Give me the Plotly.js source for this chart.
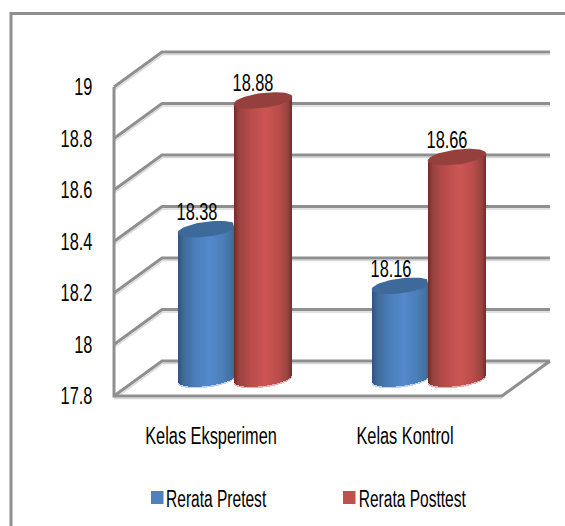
<!DOCTYPE html>
<html>
<head>
<meta charset="utf-8">
<script src="https://cdn.plot.ly/plotly-3.0.1.min.js"></script>
<style>html,body{margin:0;padding:0;background:#fff}#chart{width:565px;height:526px}</style>
</head>
<body>
<div id="chart"></div>
<script>
// ---- data ----
const categories = ['Kelas Eksperimen', 'Kelas Kontrol'];
const pretest = [18.38, 18.16];
const posttest = [18.88, 18.66];
const seriesNames = ['Rerata Pretest', 'Rerata Posttest'];
const yTicks = [17.8, 18, 18.2, 18.4, 18.6, 18.8, 19];
const yTickLabels = ['17.8', '18', '18.2', '18.4', '18.6', '18.8', '19'];

// ---- geometry / style ----
const W = 565, H = 526;
const M = {l: 104, r: 10, t: 40, b: 120};
const PX = 194, PY = 257.5;            // pixels per category, pixels per value unit
const ux = p => p / PX, uy = p => p / PY;
const yMin = 17.8, frontL = -0.5, frontR = categories.length - 0.5;
const DX = ux(48), DY = uy(35);        // depth of the 3D box
const xLo = frontL - ux(10), xHi = xLo + ux(W - M.l - M.r);
const yLo = yMin - uy(10), yHi = yLo + uy(H - M.t - M.b);
const backR = frontR + DX;
const paperX = p => (p - M.l) / (W - M.l - M.r);
const paperY = p => (H - M.b - p) / (H - M.t - M.b);
const FONT = '"Liberation Sans",Arial,sans-serif';
const FS = 23, SQUEEZE = 0.71, LEGEND_SQUEEZE = 0.675;
const GRID = '#8f8f8f', SHADOW = '#d8d8d8';

const blueStops = [[0,'#2f5580'],[0.1,'#3f6a9b'],[0.3,'#4b7eb9'],[0.55,'#5389cc'],[0.78,'#4b7eb8'],[0.93,'#41709f'],[1,'#375d88']];
const redStops  = [[0,'#6f2a28'],[0.08,'#97423f'],[0.28,'#b74c49'],[0.55,'#cd5553'],[0.78,'#b94d4a'],[0.93,'#97423f'],[1,'#6d2c2a']];
const blueCap = '#3d6a9b', redCap = '#95403d';
const blueRim = '#bcd2ee', redRim = '#e6aeac';

const hex = h => [1,3,5].map(i => parseInt(h.slice(i, i+2), 16));
function grad(stops, t) {
  for (let i = 1; i < stops.length; i++) {
    if (t <= stops[i][0]) {
      const f = (t - stops[i-1][0]) / (stops[i][0] - stops[i-1][0]);
      const a = hex(stops[i-1][1]), b = hex(stops[i][1]);
      return 'rgb(' + a.map((v, k) => Math.round(v + (b[k] - v) * f)).join(',') + ')';
    }
  }
  return stops[stops.length-1][1];
}

const HALF = ux(29.3), GAP = ux(28), EB = uy(7.5), SKEW = uy(3.5), NS = 58, RIM = uy(1.5);

function cylinder(values, side, stops, rimColor, name) {
  const x = [], y = [], base = [], color = [], rx = [], ry = [], rbase = [], rcolor = [];
  values.forEach((v, i) => {
    const c = i + DX / 2 + side * GAP;
    for (let j = 0; j < NS; j++) {
      const u = (j + 0.5) / NS * 2 - 1;
      const low = yMin + DY / 2 + SKEW * u - EB * Math.sqrt(1 - u * u);
      const top = v + DY / 2 + SKEW * u;
      x.push(c + HALF * u); base.push(low); y.push(top - low);
      color.push(grad(stops, (u + 1) / 2));
      rx.push(c + HALF * u); rbase.push(low - RIM); ry.push(RIM); rcolor.push(rimColor);
    }
  });
  return [
    {type: 'bar', x: rx, y: ry, base: rbase, width: ux(1.3), marker: {color: rcolor, line: {width: 0}}, showlegend: false, hoverinfo: 'skip'},
    {type: 'bar', x, y, base, width: ux(1.3), name, marker: {color, line: {width: 0}}, showlegend: false, hoverinfo: 'skip'}
  ];
}

function caps(values, side, color, clipRight) {
  return values.map((v, i) => {
    const c = i + DX / 2 + side * GAP, xs = [], ys = [];
    for (let k = 0; k <= 80; k++) {
      const t = k / 80 * 2 * Math.PI, u = Math.cos(t);
      let px = c + HALF * u;
      if (clipRight !== null) px = Math.min(px, i + DX / 2 + clipRight);
      xs.push(px);
      ys.push(v + DY / 2 + SKEW * u + EB * Math.sin(t));
    }
    return {type: 'scatter', mode: 'lines', x: xs, y: ys, fill: 'toself', fillcolor: color,
            line: {width: 0, color}, showlegend: false, hoverinfo: 'skip', cliponaxis: false};
  });
}

function labels(values, side) {
  return {
    type: 'scatter', mode: 'text', showlegend: false, hoverinfo: 'skip', cliponaxis: false,
    x: values.map((v, i) => i + DX / 2 + side * GAP - ux(10)),
    y: values.map(v => v + DY / 2 + uy(15)),
    text: values.map(v => v.toFixed(2)),
    textposition: 'middle center',
    textfont: {family: FONT, size: FS, color: '#000'}
  };
}

const shapes = [];
function gline(d, color, width) {
  shapes.push({type: 'path', xref: 'x', yref: 'y', layer: 'below', path: d, line: {color, width}, fillcolor: 'rgba(0,0,0,0)'});
}
const sh = uy(2.5);
yTicks.forEach(v => {
  gline(`M${frontL+ux(1)},${v-sh} L${frontL+DX+ux(1)},${v+DY-sh} L${backR},${v+DY-sh}`, SHADOW, 1.5);
});
yTicks.forEach(v => {
  gline(`M${frontL},${v} L${frontL+DX},${v+DY} L${backR},${v+DY}`, GRID, 3);
});
// floor and left wall
gline(`M${frontL},${yMin-sh} L${frontR},${yMin-sh}`, SHADOW, 1.5);
gline(`M${frontL},${yTicks[yTicks.length-1]} L${frontL},${yMin} L${frontR},${yMin} L${backR},${yMin+DY}`, GRID, 3);

// chart frame (top and left only)
shapes.push({type: 'path', xref: 'paper', yref: 'paper', layer: 'below',
  path: `M${paperX(11)},${paperY(H+2)} L${paperX(11)},${paperY(13.5)} L${paperX(W+2)},${paperY(13.5)}`,
  line: {color: GRID, width: 3}, fillcolor: 'rgba(0,0,0,0)'});

// legend keys
[[151, '#4f81bd'], [343, '#c0504d']].forEach(([px, color]) => {
  shapes.push({type: 'rect', xref: 'paper', yref: 'paper', x0: paperX(px), x1: paperX(px+12.5),
    y0: paperY(504), y1: paperY(491), fillcolor: color, line: {width: 0}});
});
const annotations = seriesNames.map((s, i) => ({
  xref: 'paper', yref: 'paper', x: paperX([216.5, 412.5][i]), y: paperY(499), xanchor: 'center', yanchor: 'middle',
  text: s, showarrow: false, font: {family: FONT, size: FS, color: '#000'}
}));

const traces = [
  ...cylinder(pretest, -1, blueStops, blueRim, seriesNames[0]),
  ...cylinder(posttest, 1, redStops, redRim, seriesNames[1]),
  ...caps(pretest, -1, blueCap, GAP - HALF),
  ...caps(posttest, 1, redCap, null),
  labels(pretest, -1),
  labels(posttest, 1)
];

const layout = {
  width: W, height: H, margin: M, autosize: false,
  paper_bgcolor: '#fff', plot_bgcolor: '#fff',
  barmode: 'overlay', bargap: 0, showlegend: false,
  font: {family: FONT, size: FS, color: '#000'},
  xaxis: {type: 'linear', range: [xLo, xHi], tickmode: 'array', tickvals: categories.map((c, i) => i), ticktext: categories,
          ticks: 'outside', ticklen: 9, tickcolor: 'rgba(0,0,0,0)', showgrid: false, zeroline: false, showline: false, fixedrange: true,
          tickfont: {family: FONT, size: FS, color: '#000'}},
  yaxis: {type: 'linear', range: [yLo, yHi], tickmode: 'array', tickvals: yTicks, ticktext: yTickLabels,
          ticks: 'outside', ticklen: 6, tickcolor: 'rgba(0,0,0,0)', showgrid: false, zeroline: false, showline: false, fixedrange: true,
          tickfont: {family: FONT, size: FS, color: '#000'}},
  shapes, annotations
};
Plotly.newPlot('chart', traces, layout, {displayModeBar: false, staticPlot: true}).then(gd => {
  // the reference typeface is a tall condensed one: narrow the real text glyphs to match
  const squeeze = (sel, k) => gd.querySelectorAll(sel).forEach(t => {
    const w = t.getComputedTextLength();
    t.setAttribute('lengthAdjust', 'spacingAndGlyphs');
    t.setAttribute('textLength', (w * k).toFixed(1));
  });
  squeeze('.xtick text, .ytick text, .textpoint text', SQUEEZE);
  squeeze('.annotation-text', LEGEND_SQUEEZE);
});
</script>
</body>
</html>
